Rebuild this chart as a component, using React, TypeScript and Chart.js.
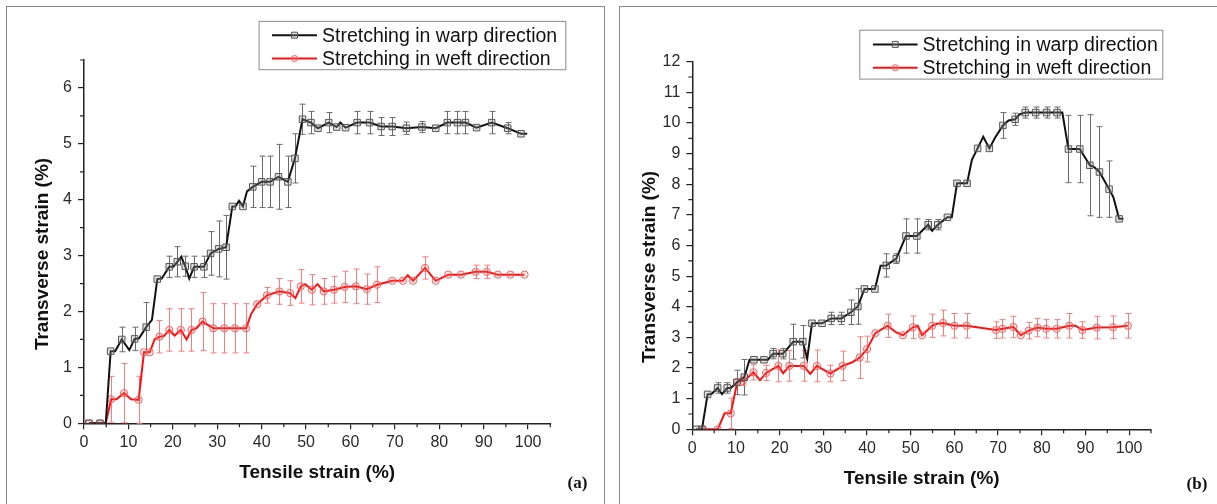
import React, { useEffect, useRef } from 'react';
import { Chart, registerables } from 'chart.js';

Chart.register(...registerables);

// ---------------- Panel (a) ----------------
const warpA_x = [1.1, 3.6, 4.9, 6.0, 7.0, 8.5, 10.2, 11.4, 12.4, 14.0, 15.3, 16.5, 17.5, 19.2, 20.1, 21.0, 21.9, 22.8, 23.7, 24.8, 27.0, 28.5, 30.3, 32.0, 33.4, 34.1, 34.9, 35.8, 36.7, 38.0, 40.0, 41.9, 43.8, 45.9, 47.5, 49.2, 51.1, 52.7, 55.1, 56.9, 57.7, 58.9, 61.5, 64.3, 66.9, 69.4, 72.6, 76.1, 79.2, 81.8, 84.1, 85.9, 88.4, 91.8, 95.4, 98.4, 99.8];
const warpA_y = [0, 0, 0, 1.29, 1.29, 1.50, 1.31, 1.51, 1.52, 1.72, 1.85, 2.58, 2.59, 2.80, 2.80, 2.89, 2.98, 2.81, 2.59, 2.80, 2.80, 3.04, 3.12, 3.15, 3.88, 3.88, 3.98, 3.88, 4.15, 4.23, 4.32, 4.32, 4.41, 4.32, 4.74, 5.44, 5.38, 5.28, 5.38, 5.30, 5.38, 5.29, 5.38, 5.38, 5.31, 5.31, 5.28, 5.30, 5.28, 5.38, 5.38, 5.38, 5.29, 5.38, 5.28, 5.18, 5.18];
const warpA_err = [0, 0, null, 0, null, 0.22, null, 0.21, null, 0.44, null, 0, null, 0.19, null, 0.27, null, 0.18, null, 0.19, 0.19, 0.39, 0.5, 0.57, 0, null, null, 0, null, 0.37, 0.46, 0.46, 0.58, 0.46, 0.44, 0.27, 0.2, 0, 0.18, 0, null, 0, 0.2, 0.2, 0.16, 0.16, 0.11, 0.1, 0, 0.2, 0.2, 0.2, 0, 0.2, 0.1, 0, null];

const weftA_x = [1.1, 3.6, 4.9, 6.1, 7.3, 9.0, 10.6, 12.3, 13.5, 14.8, 15.9, 17.0, 18.0, 19.2, 20.4, 21.8, 23.1, 24.2, 25.3, 26.7, 29.1, 31.6, 34.0, 36.5, 37.6, 39.0, 41.2, 44.0, 46.4, 47.6, 48.8, 49.8, 51.3, 52.6, 54.0, 56.3, 58.7, 61.2, 63.7, 66.0, 69.4, 71.8, 72.9, 74.1, 76.8, 79.2, 82.0, 84.9, 88.2, 90.7, 93.2, 96.0, 99.2];
const weftA_y = [0, 0, 0, 0.43, 0.43, 0.54, 0.43, 0.42, 1.27, 1.27, 1.50, 1.55, 1.56, 1.67, 1.57, 1.67, 1.50, 1.67, 1.70, 1.82, 1.70, 1.70, 1.70, 1.70, 1.95, 2.13, 2.29, 2.36, 2.33, 2.24, 2.45, 2.49, 2.39, 2.49, 2.36, 2.39, 2.44, 2.45, 2.40, 2.48, 2.55, 2.55, 2.65, 2.55, 2.78, 2.55, 2.66, 2.66, 2.71, 2.71, 2.66, 2.66, 2.66];
const weftA_err = [0, 0, null, 0.41, null, 0.53, null, 0.42, 0, 0, null, 0.29, null, 0.38, null, 0.38, null, 0.38, null, 0.52, 0.44, 0.44, 0.44, 0.44, null, 0, 0.14, 0.23, 0.22, null, 0.3, null, 0.27, null, 0.23, 0.24, 0.28, 0.31, 0.27, 0.32, 0, 0, null, 0, 0.2, 0, 0, 0, 0.12, 0.12, 0, 0, 0];

// ---------------- Panel (b) ----------------
const warpB_x = [0.9, 2.2, 3.5, 4.4, 5.8, 6.8, 8.0, 8.8, 10.2, 11.9, 13.1, 14.1, 16.4, 17.3, 18.5, 20.7, 21.6, 23.1, 25.3, 26.3, 27.4, 29.7, 31.8, 34.1, 36.3, 37.9, 39.4, 41.8, 43.1, 44.4, 46.7, 48.9, 51.4, 54.0, 54.9, 56.2, 58.4, 59.4, 60.6, 62.9, 64.0, 65.3, 66.6, 68.0, 69.3, 71.1, 72.4, 73.9, 74.9, 76.2, 78.6, 81.1, 83.5, 84.7, 86.1, 88.7, 91.0, 92.0, 93.2, 95.4, 96.4, 97.7, 98.7];
const warpB_y = [0, 0, 1.14, 1.15, 1.35, 1.15, 1.35, 1.35, 1.53, 1.70, 2.27, 2.27, 2.27, 2.27, 2.47, 2.47, 2.60, 2.86, 2.86, 2.30, 3.46, 3.46, 3.62, 3.62, 3.82, 4.01, 4.58, 4.58, 5.34, 5.35, 5.57, 6.31, 6.31, 6.68, 6.48, 6.68, 6.92, 6.92, 8.03, 8.03, 8.80, 9.17, 9.55, 9.17, 9.52, 9.92, 10.08, 10.12, 10.28, 10.34, 10.34, 10.34, 10.34, 10.34, 9.15, 9.15, 8.62, 8.56, 8.40, 7.84, 7.57, 6.87, 6.87];
const warpB_err = [0, 0, 0, null, 0.17, null, 0.17, null, 0.4, 0.58, null, 0, 0, null, 0.17, 0.17, null, 0.57, 0.53, null, 0, 0, 0.2, 0.2, 0.4, 0.58, 0, 0, null, 0.38, 0.16, 0.56, 0.56, 0.17, null, 0.17, 0, null, 0, 0, null, 0, null, 0, null, 0.42, null, 0.2, null, 0.18, 0.18, 0.18, 0.18, null, 1.1, 1.1, 1.65, null, 1.48, 0.92, null, 0, null];

const weftB_x = [2.5, 4.4, 5.8, 7.4, 8.8, 10.3, 11.6, 12.4, 14.0, 15.5, 16.9, 19.7, 20.8, 22.2, 25.5, 27.0, 28.5, 30.0, 31.6, 34.4, 36.5, 38.3, 40.0, 41.9, 44.7, 46.6, 48.2, 50.5, 51.6, 52.6, 54.9, 55.8, 57.4, 60.0, 62.8, 69.5, 71.0, 73.5, 75.2, 77.0, 79.0, 81.0, 83.4, 86.3, 87.7, 89.3, 92.6, 96.3, 99.7];
const weftB_y = [0, 0, 0, 0.52, 0.52, 1.55, 1.58, 1.65, 1.86, 1.60, 1.84, 2.07, 1.83, 2.07, 2.07, 1.81, 2.07, 1.95, 1.82, 2.07, 2.18, 2.34, 2.62, 3.14, 3.38, 3.17, 3.07, 3.33, 3.38, 3.07, 3.38, 3.44, 3.47, 3.38, 3.38, 3.24, 3.28, 3.34, 3.07, 3.22, 3.32, 3.28, 3.28, 3.38, 3.38, 3.24, 3.32, 3.33, 3.38];
const weftB_err = [0, null, 0, null, 0.5, 0, 0.15, null, 0.25, null, 0.25, 0.52, null, 0.5, 0.5, null, 0.52, null, 0.27, 0.48, null, 0.68, 0.42, 0, 0.38, null, 0, 0.37, null, 0, 0.38, null, 0.42, 0.4, 0.4, 0.27, 0.3, 0.35, 0, 0.27, 0.3, 0.3, 0.3, 0.4, null, 0.27, 0.37, 0.37, 0.4];

// ---------------- Texts / axes ----------------
const seriesLabels = ['Stretching in warp direction', 'Stretching in weft direction'];
const xTitleText = 'Tensile strain (%)';
const yTitleText = 'Transverse strain (%)';
const panelLabels = ['(a)', '(b)'];
const xAxisMax = 105;
const xTickStep = 10;
const yTickStep = 1;
const yAxisMaxA = 6.5;
const yAxisMaxB = 12;

const SANS = "'Liberation Sans', Arial, Helvetica, sans-serif";
const AXIS = '#222';

const toPoints = (xs: number[], ys: number[]) => xs.map((x, i) => ({ x, y: ys[i] }));

const errorBarPlugin = {
  id: 'errorBars',
  beforeDatasetsDraw(chart: any) {
    const ctx = chart.ctx;
    const ys = chart.scales.y;
    chart.data.datasets.forEach((ds: any, i: number) => {
      const errs = ds.errors;
      if (!errs) return;
      const meta = chart.getDatasetMeta(i);
      ctx.save();
      ctx.strokeStyle = ds.errorColor;
      ctx.lineWidth = 1;
      meta.data.forEach((el: any, j: number) => {
        const e = errs[j];
        if (e == null || e <= 0) return;
        const v = ds.data[j].y;
        const x = Math.round(el.x) + 0.5;
        const t = ys.getPixelForValue(v + e);
        const b = ys.getPixelForValue(v - e);
        ctx.beginPath();
        ctx.moveTo(x, t);
        ctx.lineTo(x, b);
        ctx.moveTo(x - 3, t);
        ctx.lineTo(x + 3, t);
        ctx.moveTo(x - 3, b);
        ctx.lineTo(x + 3, b);
        ctx.stroke();
      });
      ctx.restore();
    });
  },
};

const decorPlugin = {
  id: 'decor',
  afterDraw(chart: any, _args: any, opts: any) {
    const { ctx, chartArea: ca } = chart;
    const xs = chart.scales.x;
    const ys = chart.scales.y;
    ctx.save();
    // minor ticks
    ctx.strokeStyle = AXIS;
    ctx.lineWidth = 1.2;
    ctx.beginPath();
    for (let v = xs.min + xTickStep / 2; v <= xs.max + 1e-9; v += xTickStep) {
      const px = xs.getPixelForValue(v);
      ctx.moveTo(px, ca.bottom);
      ctx.lineTo(px, ca.bottom + 4);
    }
    for (let v = ys.min + yTickStep / 2; v <= ys.max + 1e-9; v += yTickStep) {
      const py = ys.getPixelForValue(v);
      ctx.moveTo(ca.left, py);
      ctx.lineTo(ca.left - 4, py);
    }
    ctx.stroke();

    // axis titles
    ctx.fillStyle = '#111';
    ctx.font = `bold 19px ${SANS}`;
    ctx.textAlign = 'center';
    ctx.textBaseline = 'middle';
    ctx.fillText(xTitleText, (ca.left + ca.right) / 2, ca.bottom + opts.xTitleOffset);
    ctx.save();
    ctx.translate(opts.yTitleX, opts.yTitleY);
    ctx.rotate(-Math.PI / 2);
    ctx.fillText(yTitleText, 0, 0);
    ctx.restore();

    // legend
    const L = opts.legend;
    ctx.strokeStyle = '#8a8a8a';
    ctx.lineWidth = 1;
    ctx.strokeRect(L.left + 0.5, L.top + 0.5, L.right - L.left, L.bottom - L.top);
    chart.data.datasets.forEach((ds: any, i: number) => {
      const ry = L.rows[i];
      ctx.strokeStyle = ds.borderColor;
      ctx.lineWidth = 2;
      ctx.beginPath();
      ctx.moveTo(L.sample[0], ry);
      ctx.lineTo(L.sample[1], ry);
      ctx.stroke();
      const cx = (L.sample[0] + L.sample[1]) / 2;
      ctx.lineWidth = 1;
      ctx.strokeStyle = ds.pointBorderColor;
      ctx.fillStyle = ds.pointBackgroundColor;
      ctx.beginPath();
      if (ds.pointStyle === 'rect') {
        ctx.rect(cx - 3, ry - 3, 6, 6);
      } else {
        ctx.arc(cx, ry, 3, 0, Math.PI * 2);
      }
      ctx.fill();
      ctx.stroke();
      ctx.fillStyle = '#111';
      ctx.font = `19.5px ${SANS}`;
      ctx.textAlign = 'left';
      ctx.textBaseline = 'middle';
      ctx.fillText(ds.label, L.textX, ry + 1);
    });
    ctx.restore();
  },
};

type PanelProps = {
  width: number;
  height: number;
  area: { left: number; right: number; top: number; bottom: number };
  yMax: number;
  warp: { x: number[]; y: number[]; err: (number | null)[] };
  weft: { x: number[]; y: number[]; err: (number | null)[] };
  decor: any;
};

function Panel({ width, height, area, yMax, warp, weft, decor }: PanelProps) {
  const ref = useRef<HTMLCanvasElement | null>(null);
  useEffect(() => {
    if (!ref.current) return;
    const tickFont = { family: SANS, size: 16 };
    const chart = new Chart(ref.current, {
      type: 'line',
      data: {
        datasets: [
          {
            label: seriesLabels[0],
            data: toPoints(warp.x, warp.y),
            borderColor: '#111',
            borderWidth: 2,
            pointStyle: 'rect',
            pointRadius: (c: any) => (warp.err[c.dataIndex] == null ? 0 : 4.6),
            pointBorderColor: '#555',
            pointBackgroundColor: 'rgba(160,160,160,0.3)',
            pointBorderWidth: 1,
            tension: 0,
            fill: false,
            errors: warp.err,
            errorColor: '#6a6a6a',
          } as any,
          {
            label: seriesLabels[1],
            data: toPoints(weft.x, weft.y),
            borderColor: '#ff1010',
            borderWidth: 2,
            pointStyle: 'circle',
            pointRadius: (c: any) => (weft.err[c.dataIndex] == null ? 0 : 3.6),
            pointBorderColor: '#ff5a5a',
            pointBackgroundColor: 'rgba(255,140,140,0.15)',
            pointBorderWidth: 1,
            tension: 0,
            fill: false,
            errors: weft.err,
            errorColor: '#ff7a7a',
          } as any,
        ],
      },
      options: {
        responsive: false,
        animation: false,
        devicePixelRatio: 1,
        layout: { padding: { left: 0, top: area.top, right: width - area.right, bottom: 0 } },
        plugins: {
          legend: { display: false },
          tooltip: { enabled: false },
          decor,
        } as any,
        scales: {
          x: {
            type: 'linear',
            min: 0,
            max: xAxisMax,
            afterFit: (s: any) => {
              s.height = height - area.bottom;
            },
            ticks: { stepSize: xTickStep, includeBounds: false, autoSkip: false, maxRotation: 0, font: tickFont, color: '#2a2a2a', padding: 4 },
            grid: { drawOnChartArea: false, drawTicks: true, tickLength: 6, color: AXIS, lineWidth: 1.2 },
            border: { display: true, color: AXIS, width: 1.5 },
            title: { display: false },
          },
          y: {
            type: 'linear',
            min: 0,
            max: yMax,
            afterFit: (s: any) => {
              s.width = area.left;
            },
            ticks: { stepSize: yTickStep, includeBounds: false, autoSkip: false, font: tickFont, color: '#2a2a2a', padding: 6 },
            grid: { drawOnChartArea: false, drawTicks: true, tickLength: 6, color: AXIS, lineWidth: 1.2 },
            border: { display: true, color: AXIS, width: 1.5 },
            title: { display: false },
          },
        },
      } as any,
      plugins: [errorBarPlugin, decorPlugin],
    });
    return () => chart.destroy();
  }, []);
  return <canvas ref={ref} width={width} height={height} style={{ display: 'block', width, height }} />;
}

export default function App() {
  const frame: React.CSSProperties = { position: 'absolute', border: '1px solid #8a8a8a', boxSizing: 'border-box' };
  const lbl: React.CSSProperties = {
    position: 'absolute',
    transform: 'translate(-50%, -50%)',
    fontFamily: "'Liberation Serif', 'Times New Roman', serif",
    fontWeight: 'bold',
    fontSize: 17,
    color: '#111',
    lineHeight: 1,
    whiteSpace: 'nowrap',
  };
  return (
    <div style={{ position: 'fixed', left: 0, top: 0, width: 1217, height: 504, overflow: 'hidden', background: '#fff' }}>
      <div style={{ ...frame, left: 6, top: 6, width: 599, height: 520 }} />
      <div style={{ ...frame, left: 619, top: 6, width: 640, height: 520 }} />
      <div style={{ position: 'absolute', left: 0, top: 0 }}>
        <Panel
          width={610}
          height={504}
          area={{ left: 84, right: 550.3, top: 60, bottom: 423.3 }}
          yMax={yAxisMaxA}
          warp={{ x: warpA_x, y: warpA_y, err: warpA_err }}
          weft={{ x: weftA_x, y: weftA_y, err: weftA_err }}
          decor={{
            xTitleOffset: 49.3,
            yTitleX: 42.3,
            yTitleY: 254,
            legend: { left: 258.6, top: 20.9, right: 565.3, bottom: 69.2, rows: [35.2, 58.5], sample: [272, 317], textX: 322 },
          }}
        />
      </div>
      <div style={{ position: 'absolute', left: 610, top: 0 }}>
        <Panel
          width={607}
          height={504}
          area={{ left: 82.3, right: 541, top: 61.7, bottom: 429.3 }}
          yMax={yAxisMaxB}
          warp={{ x: warpB_x, y: warpB_y, err: warpB_err }}
          weft={{ x: weftB_x, y: weftB_y, err: weftB_err }}
          decor={{
            xTitleOffset: 49.9,
            yTitleX: 39.6,
            yTitleY: 267,
            legend: { left: 249.3, top: 29.7, right: 552.3, bottom: 78.6, rows: [44.4, 67.7], sample: [262.9, 307.6], textX: 312.6 },
          }}
        />
      </div>
      <div style={{ ...lbl, left: 577.5, top: 482 }}>{panelLabels[0]}</div>
      <div style={{ ...lbl, left: 1197, top: 482.7 }}>{panelLabels[1]}</div>
    </div>
  );
}
